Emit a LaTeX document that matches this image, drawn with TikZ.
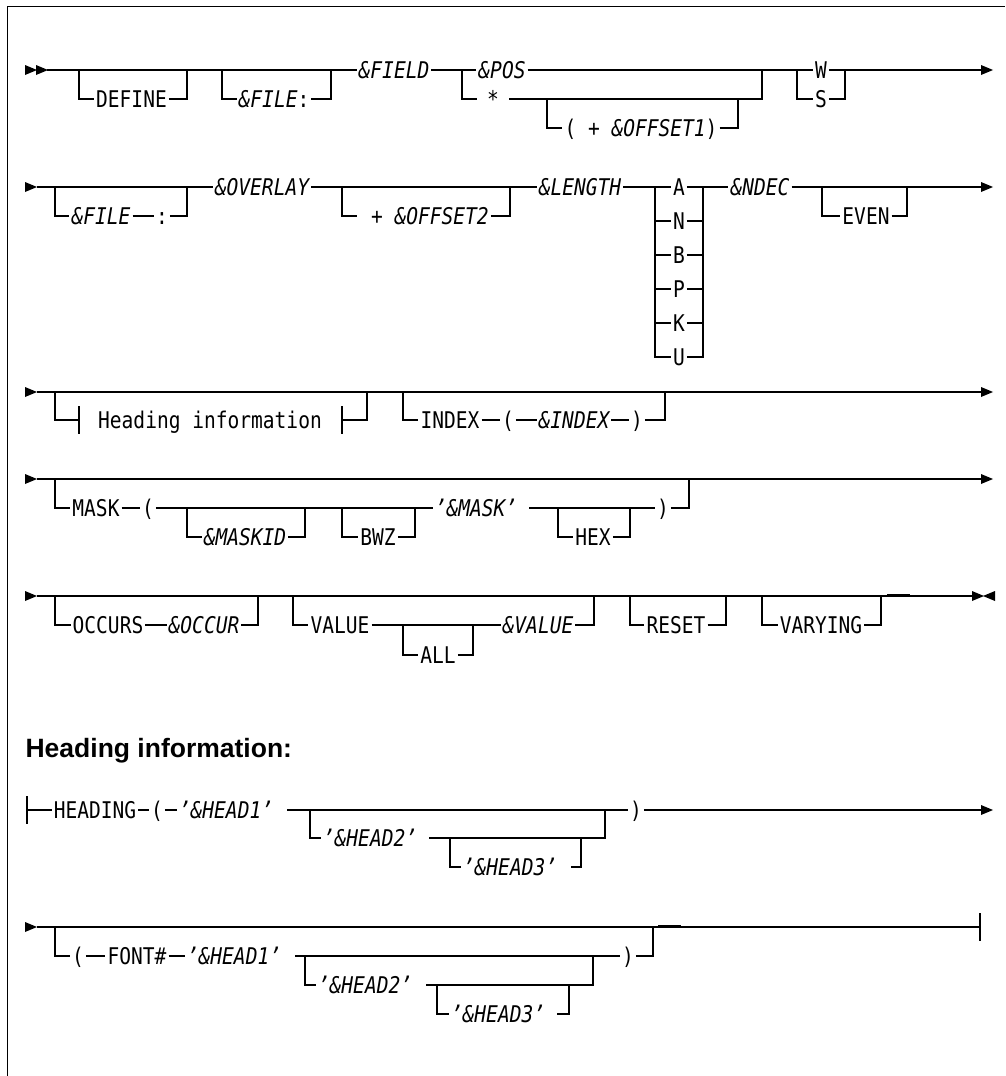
\documentclass[tikz,border=0pt]{standalone}
\usepackage{fontspec}
\newfontfamily\rrfont[FakeStretch=0.85]{DejaVu Sans Mono}
\newfontfamily\ttlfont{Liberation Sans}
\tikzset{
	kw/.style={font=\rrfont\fontsize{23}{27}\selectfont, inner xsep=1.5pt, inner ysep=0pt, text height=16.8pt, text depth=0pt},
	var/.style={kw, font=\rrfont\fontsize{23}{27}\selectfont\itshape},
	fwd/.pic={\fill (0,-5)--(12,0)--(0,5)--cycle;},
	bwd/.pic={\fill (12,-5)--(0,0)--(12,5)--cycle;},
}
\begin{document}
\begin{tikzpicture}[x=1pt, y=-1pt, line width=1.2pt, line join=miter]
		\useasboundingbox (0,0) rectangle (1005,1076);
		\draw[line width=1pt] (7,1076)--(7,6)--(1005,6);
		% row 1
		\coordinate (r1a) at (47,70); \coordinate (r1z) at (981,70);
		\pic at (25,70) {fwd}; \pic at (36,70) {fwd}; \pic at (r1z) {fwd};
		\node[var] (fld) at (394,70) {\&FIELD};
		\node[var] (pos) at (502,70) {\&POS};
		\node[kw] (w) at (821,70) {W};
		\draw (r1a)--(fld.west) (fld.east)--(pos.west) (pos.east)--(w.west) (w.east)--(r1z);
		\node[kw] (def) at (131.5,99) {DEFINE};
		\draw (79,70) |- (def.west) (def.east) -| (187,70);
		\node[kw] (fil) at (274,99) {\textit{\&FILE}:};
		\draw (222,70) |- (fil.west) (fil.east) -| (331,70);
		\node[kw, inner xsep=10pt] (star) at (493,99) {*};
		\draw (462,70) |- (star.west) (star.east) -| (762,70);
		\node[kw] (off1) at (641,128) {( + \textit{\&OFFSET1})};
		\draw (547,99) |- (off1.west) (off1.east) -| (738,99);
		\node[kw] (s) at (821,99) {S};
		\draw (797,70) |- (s.west) (s.east) -| (845,70);
		% row 2
		\coordinate (r2a) at (37,187); \coordinate (r2z) at (981,187);
		\pic at (25,187) {fwd}; \pic at (r2z) {fwd};
		\node[var] (ovl) at (262,187) {\&OVERLAY};
		\node[var] (len) at (580,187) {\&LENGTH};
		\node[var] (nd) at (760,187) {\&NDEC};
		\node[var] (fil2) at (101,216) {\&FILE};
		\node[kw] (col2) at (162,216) {:};
		\draw (55,187) |- (fil2.west) (fil2.east)--(col2.west) (col2.east) -| (187,187);
		\node[kw] (off2) at (424,216) {\ + \textit{\&OFFSET2}};
		\draw (342,187) |- (off2.west) (off2.east) -| (510,187);
		\foreach \t [count=\i from 0] in {A,N,B,P,K,U}
		\node[kw] (t\i) at (679,{187+34*\i}) {\t};
		\draw (r2a)--(ovl.west) (ovl.east)--(len.west) (len.east)--(t0.west) (t0.east)--(nd.west) (nd.east)--(r2z);
		\draw (655,187) |- (t5.west) (t5.east) -| (703,187);
		\foreach \i in {1,...,4}
		\draw (655,{187+34*\i})--(t\i.west) (t\i.east)--(703,{187+34*\i});
		\node[kw] (even) at (866,216) {EVEN};
		\draw (822,187) |- (even.west) (even.east) -| (907,187);
		% row 3
		\coordinate (r3a) at (37,392); \coordinate (r3z) at (981,392);
		\pic at (25,392) {fwd}; \pic at (r3z) {fwd};
		\draw (r3a)--(r3z);
		\node[kw] (hinf) at (210,420) {Heading information};
		\draw (55,392) |- (79,420) (79,406)--(79,434) (342,406)--(342,434) (342,420) -| (367,392);
		\node[kw] (idx) at (450,420) {INDEX};
		\node[kw] (lp1) at (508,420) {(};
		\node[var] (idxv) at (574,420) {\&INDEX};
		\node[kw] (rp1) at (637,420) {)};
		\draw (403,392) |- (idx.west) (idx.east)--(lp1.west) (lp1.east)--(idxv.west) (idxv.east)--(rp1.west) (rp1.east) -| (665,392);
		% row 4
		\coordinate (r4a) at (37,479); \coordinate (r4z) at (981,479);
		\pic at (25,479) {fwd}; \pic at (r4z) {fwd};
		\draw (r4a)--(r4z);
		\node[kw] (msk) at (96,508) {MASK};
		\node[kw] (lp2) at (148,508) {(};
		\node[var] (mskv) at (476,508) {’\&MASK’};
		\node[kw] (rp2) at (663,508) {)};
		\draw (55,479) |- (msk.west) (msk.east)--(lp2.west) (lp2.east)--(mskv.west) ([xshift=10pt]mskv.east)--(rp2.west) (rp2.east) -| (689,479);
		\node[var] (mid) at (245,537) {\&MASKID};
		\draw (187,508) |- (mid.west) (mid.east) -| (305,508);
		\node[kw] (bwz) at (378,537) {BWZ};
		\draw (342,508) |- (bwz.west) (bwz.east) -| (415,508);
		\node[kw] (hex) at (593,537) {HEX};
		\draw (558,508) |- (hex.west) (hex.east) -| (630,508);
		% row 5
		\coordinate (r5a) at (37,596); \coordinate (r5z) at (972,596);
		\pic at (25,596) {fwd}; \pic at (r5z) {fwd}; \pic at (983,596) {bwd};
		\draw (r5a)--(r5z);
		\draw (887,595)--(910,595);
		\node[kw] (occ) at (108,625) {OCCURS};
		\node[var] (occv) at (204,625) {\&OCCUR};
		\draw (55,596) |- (occ.west) (occ.east)--(occv.west) (occv.east) -| (258,596);
		\node[kw] (val) at (340,625) {VALUE};
		\node[var] (valv) at (538,625) {\&VALUE};
		\node[kw] (all) at (438,655) {ALL};
		\draw (293,596) |- (val.west) (val.east)--(valv.west) (valv.east) -| (594,596);
		\draw (403,625) |- (all.west) (all.east) -| (473,625);
		\node[kw] (rst) at (676,625) {RESET};
		\draw (630,596) |- (rst.west) (rst.east) -| (726,596);
		\node[kw] (vry) at (821,625) {VARYING};
		\draw (762,596) |- (vry.west) (vry.east) -| (881,596);
		% heading information
		\node[anchor=base west, inner sep=0pt, font=\ttlfont\bfseries\fontsize{26.5}{31}\selectfont] (ttl) at (25,757) {Heading information:};
		% row 6
		\coordinate (r6a) at (27,810); \coordinate (r6z) at (981,810);
		\draw (27,796)--(27,824);
		\pic at (r6z) {fwd};
		\node[kw] (hdg) at (95,810) {HEADING};
		\node[kw] (lp3) at (157,810) {(};
		\node[var] (h1) at (226,810) {’\&HEAD1’};
		\node[kw] (rp3) at (636,810) {)};
		\draw (r6a)--(hdg.west) (hdg.east)--(lp3.west) (lp3.east)--(h1.west) ([xshift=12pt]h1.east)--(rp3.west) (rp3.east)--(r6z);
		\node[var] (h2) at (370,838) {’\&HEAD2’};
		\draw (310,810) |- (h2.west) ([xshift=10pt]h2.east) -| (605,810);
		\node[var] (h3) at (510,867) {’\&HEAD3’};
		\draw (450,838) |- (h3.west) ([xshift=12pt]h3.east) -| (581,838);
		% row 7
		\coordinate (r7a) at (37,927); \coordinate (r7z) at (980,927);
		\pic at (25,927) {fwd};
		\draw (r7a)--(r7z) (980,913)--(980,941);
		\draw (658,926)--(681,926);
		\node[kw] (lp4) at (78,956) {(};
		\node[kw] (fnt) at (137,956) {FONT\#};
		\node[var] (h1b) at (234,956) {’\&HEAD1’};
		\node[kw] (rp4) at (628,956) {)};
		\draw (55,927) |- (lp4.west) (lp4.east)--(fnt.west) (fnt.east)--(h1b.west) ([xshift=12pt]h1b.east)--(rp4.west) (rp4.east) -| (653,927);
		\node[var] (h2b) at (365,985) {’\&HEAD2’};
		\draw (305,956) |- (h2b.west) ([xshift=12pt]h2b.east) -| (593,956);
		\node[var] (h3b) at (498,1014) {’\&HEAD3’};
		\draw (437,985) |- (h3b.west) ([xshift=10pt]h3b.east) -| (569,985);
	\end{tikzpicture}
\end{document}
